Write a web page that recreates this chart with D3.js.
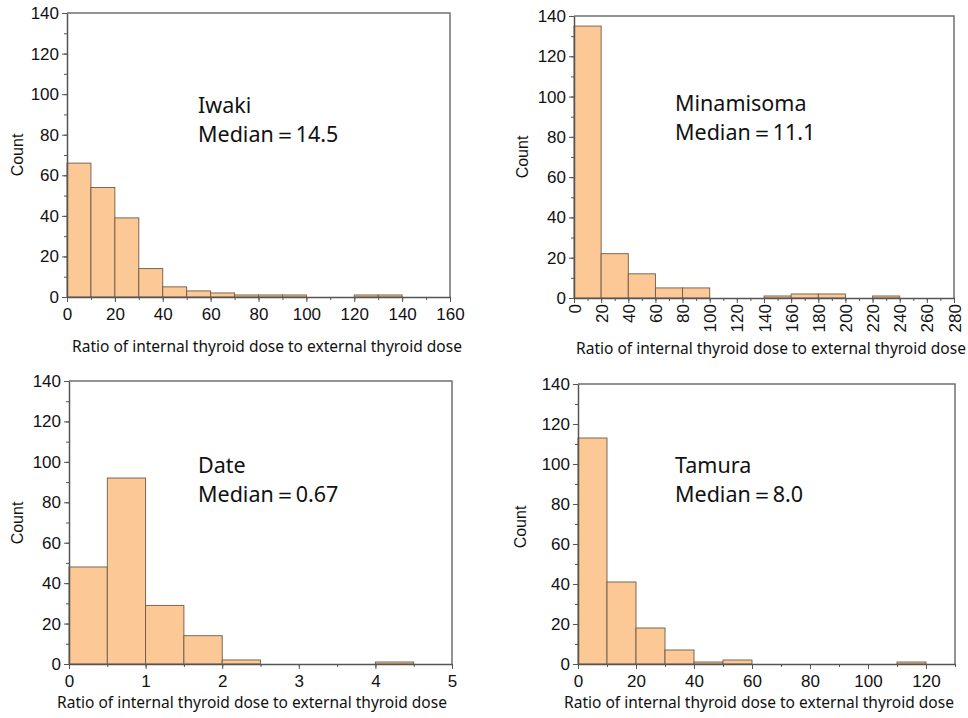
<!DOCTYPE html>
<html>
<head>
<meta charset="utf-8">
<script src="https://cdn.jsdelivr.net/npm/d3@7"></script>
<style>
  body { margin: 0; background: #fff; }
  .tick text { font-family: "Liberation Sans", Arial, sans-serif; font-size: 17px; fill: #111; }
  .lbl { font-family: "Noto Sans", sans-serif; fill: #111; }
</style>
</head>
<body>
<div id="chart"></div>
<script>
// --- data (counts per bin) ---
var iwakiBins = [0, 10, 20, 30, 40, 50, 60, 70, 80, 90, 100, 110, 120, 130, 140, 150, 160];
var iwakiCounts = [66, 54, 39, 14, 5, 3, 2, 1, 1, 1, 0, 0, 1, 1, 0, 0];
var iwakiTicks = [0, 20, 40, 60, 80, 100, 120, 140, 160];

var minamiBins = [0, 20, 40, 60, 80, 100, 120, 140, 160, 180, 200, 220, 240, 260, 280];
var minamiCounts = [135, 22, 12, 5, 5, 0, 0, 1, 2, 2, 0, 1, 0, 0];
var minamiTicks = [0, 20, 40, 60, 80, 100, 120, 140, 160, 180, 200, 220, 240, 260, 280];

var dateBins = [0, 0.5, 1, 1.5, 2, 2.5, 3, 3.5, 4, 4.5, 5];
var dateCounts = [48, 92, 29, 14, 2, 0, 0, 0, 1, 0];
var dateTicks = [0, 1, 2, 3, 4, 5];

var tamuraBins = [0, 10, 20, 30, 40, 50, 60, 70, 80, 90, 100, 110, 120, 130];
var tamuraCounts = [113, 41, 18, 7, 1, 2, 0, 0, 0, 0, 0, 1, 0];
var tamuraTicks = [0, 20, 40, 60, 80, 100, 120];

var yTicks = [0, 20, 40, 60, 80, 100, 120, 140];
var xTitle = "Ratio of internal thyroid dose to external thyroid dose";

var panels = [
  {name: "Iwaki", median: "14.5", bins: iwakiBins, counts: iwakiCounts, ticks: iwakiTicks, minor: 10,
   box: [67, 450, 13, 297], count: [17, 155], xlab: [267, 352], note: [198, 113]},
  {name: "Minamisoma", median: "11.1", bins: minamiBins, counts: minamiCounts, ticks: minamiTicks, minor: 10, rotate: true,
   box: [574, 954, 16, 298], count: [522, 157], xlab: [771, 354], note: [675, 111]},
  {name: "Date", median: "0.67", bins: dateBins, counts: dateCounts, ticks: dateTicks, minor: 0.5,
   box: [69, 452, 381, 664], count: [17, 523], xlab: [252, 708], note: [198, 473]},
  {name: "Tamura", median: "8.0", bins: tamuraBins, counts: tamuraCounts, ticks: tamuraTicks, minor: 10,
   box: [578, 955, 384, 664], count: [520, 527], xlab: [759, 708], note: [675, 473]}
];

var svg = d3.select("#chart").append("svg")
    .attr("width", 968)
    .attr("height", 718);

panels.forEach(function(p) {
  var b = p.bins;
  var x = d3.scaleLinear().domain([b[0], b[b.length - 1]]).range([p.box[0], p.box[1]]);
  var y = d3.scaleLinear().domain([0, 140]).range([p.box[3], p.box[2]]);
  var g = svg.append("g");

  // bars (skip empty bins)
  var data = p.counts.map(function(c, i) { return {x0: b[i], x1: b[i + 1], n: c}; })
                     .filter(function(d) { return d.n > 0; });
  g.selectAll("rect.bar").data(data).enter()
    .append("rect")
    .attr("class", "bar")
    .attr("x", function(d) { return x(d.x0); })
    .attr("y", function(d) { return y(d.n); })
    .attr("width", function(d) { return x(d.x1) - x(d.x0); })
    .attr("height", function(d) { return y(0) - y(d.n); })
    .attr("fill", "#fcc996")
    .attr("stroke", "#6e5a48")
    .attr("stroke-width", 0.9);

  // frame top/right
  g.append("path")
    .attr("d", "M" + x.range()[0] + "," + y(140) + "H" + x.range()[1] + "V" + y(0))
    .attr("fill", "none").attr("stroke", "#707070").attr("stroke-width", 1.5);

  // minor ticks
  var xMinor = d3.range(b[0], b[b.length - 1] + 1e-9, p.minor);
  var yMinor = d3.range(0, 141, 10);
  g.append("g").call(d3.axisBottom(x).tickValues(xMinor).tickSize(3).tickFormat(""))
    .attr("transform", "translate(0," + y(0) + ")")
    .call(function(a) { a.select(".domain").remove(); a.selectAll("line").attr("stroke", "#555"); });
  g.append("g").call(d3.axisLeft(y).tickValues(yMinor).tickSize(3).tickFormat(""))
    .attr("transform", "translate(" + x.range()[0] + ",0)")
    .call(function(a) { a.select(".domain").remove(); a.selectAll("line").attr("stroke", "#555"); });

  // major axes
  var xa = g.append("g")
    .attr("transform", "translate(0," + y(0) + ")")
    .call(d3.axisBottom(x).tickValues(p.ticks).tickSize(5).tickPadding(6).tickSizeOuter(0).tickFormat(d3.format("d")));
  if (p.rotate) {
    xa.selectAll(".tick text")
      .attr("transform", "rotate(-90)")
      .attr("text-anchor", "end")
      .attr("x", -6)
      .attr("y", 0)
      .attr("dy", "0.36em");
  }
  var ya = g.append("g")
    .attr("transform", "translate(" + x.range()[0] + ",0)")
    .call(d3.axisLeft(y).tickValues(yTicks).tickSize(5).tickPadding(3).tickSizeOuter(0));
  [xa, ya].forEach(function(a) {
    a.select(".domain").attr("stroke", "#555").attr("stroke-width", 1.5);
    a.selectAll(".tick line").attr("stroke", "#555");
  });

  // axis titles
  g.append("text")
    .attr("transform", "translate(" + p.count[0] + "," + p.count[1] + ") rotate(-90)")
    .attr("text-anchor", "middle")
    .attr("dy", "0.35em")
    .style("font-family", "Liberation Sans, Arial, sans-serif")
    .style("font-size", "16px")
    .attr("fill", "#111")
    .text("Count");
  g.append("text")
    .attr("class", "lbl")
    .attr("x", p.xlab[0]).attr("y", p.xlab[1])
    .attr("text-anchor", "middle")
    .style("font-size", "15.5px")
    .text(xTitle);

  // annotation
  g.append("text").attr("class", "lbl")
    .attr("x", p.note[0]).attr("y", p.note[1])
    .style("font-size", "21.5px")
    .text(p.name);
  g.append("text").attr("class", "lbl")
    .attr("x", p.note[0]).attr("y", p.note[1] + 29)
    .style("font-size", "21.5px")
    .text("Median\uFF1D" + p.median);
});
</script>
</body>
</html>
